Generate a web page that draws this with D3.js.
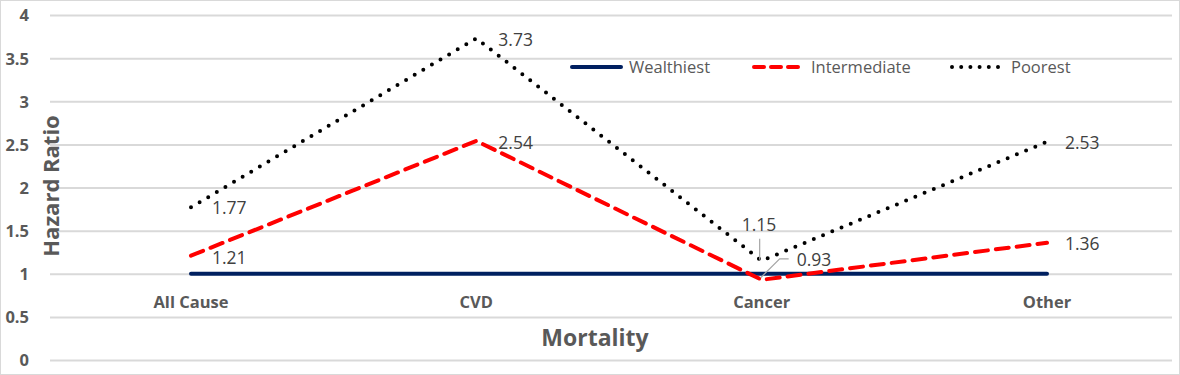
<!DOCTYPE html>
<html><head><meta charset="utf-8">
<script src="https://cdn.jsdelivr.net/npm/d3@7"></script>
<style>body{margin:0;background:#fff}text{font-family:"Open Sans","Noto Sans",sans-serif}</style>
</head><body>
<svg id="c" width="1180" height="375"></svg>
<script>
const categories = ["All Cause","CVD","Cancer","Other"];
const wealthiest = [1,1,1,1];
const intermediate = [1.21,2.54,0.93,1.36];
const poorest = [1.77,3.73,1.15,2.53];
const yTicks = [0,0.5,1,1.5,2,2.5,3,3.5,4];
const seriesNames = ["Wealthiest","Intermediate","Poorest"];

const svg = d3.select("#c");
svg.append("rect").attr("x",0.5).attr("y",0.5).attr("width",1179).attr("height",374).attr("fill","#fff").attr("stroke","#d9d9d9");

const x = d3.scalePoint().domain(categories).range([191,1047]);
const y = d3.scaleLinear().domain([0,4]).range([360,15]);

// gridlines + tick labels
const gAxis = svg.append("g").attr("transform","translate(50,0)")
  .call(d3.axisLeft(y).tickValues(yTicks).tickSize(-1122).tickFormat(d=>d));
gAxis.select(".domain").remove();
gAxis.selectAll(".tick line").attr("stroke","#d9d9d9").attr("stroke-width",2);
gAxis.selectAll(".tick text").attr("x",-21).attr("dy","0.36em").attr("fill","#595959")
  .attr("font-size","16.5px").attr("font-weight","bold").attr("text-anchor","end");

// category labels
svg.selectAll(".cat").data(categories).enter().append("text")
  .attr("x",d=>x(d)).attr("y",308).attr("text-anchor","middle")
  .attr("fill","#595959").attr("font-size","16.5px").attr("font-weight","bold").text(d=>d);

svg.append("text").attr("x",595).attr("y",346).attr("text-anchor","middle")
  .attr("fill","#595959").attr("font-size","23px").attr("font-weight","bold").text("Mortality");
svg.append("text").attr("transform","translate(59,186) rotate(-90)").attr("text-anchor","middle")
  .attr("fill","#595959").attr("font-size","22px").attr("font-weight","bold").text("Hazard Ratio");

const line = d3.line().x((d,i)=>x(categories[i])).y(d=>y(d));
const styles = [
  {data:wealthiest,color:"#002060",dash:null,leg:null},
  {data:intermediate,color:"#ff0000",dash:"13,8",leg:"10,7"},
  {data:poorest,color:"#000000",dash:"0,10",leg:"0,9.2"}
];
styles.forEach(s=>{
  svg.append("path").datum(s.data).attr("d",line).attr("fill","none")
    .attr("stroke",s.color).attr("stroke-width",4).attr("stroke-linecap","round")
    .attr("stroke-dasharray",s.dash);
});

// legend
const legX1 = [572,754,952];
const legX2 = [621,798,998];
const legT = [629,811,1011];
styles.forEach((s,i)=>{
  svg.append("line").attr("x1",legX1[i]).attr("x2",legX2[i]).attr("y1",67).attr("y2",67)
    .attr("stroke",s.color).attr("stroke-width",4).attr("stroke-linecap","round").attr("stroke-dasharray",s.leg);
  svg.append("text").attr("x",legT[i]).attr("y",73).attr("fill","#595959").attr("font-size","16.5px").text(seriesNames[i]);
});

// data labels
const lbl = (lx,ly,v)=>svg.append("text").attr("x",lx).attr("y",ly).attr("fill","#404040").attr("font-size","17.5px").text(v.toFixed(2));
lbl(x(categories[0])+21, y(poorest[0])+7, poorest[0]);
lbl(x(categories[0])+21, y(intermediate[0])+8, intermediate[0]);
lbl(x(categories[1])+22, y(poorest[1])+8, poorest[1]);
lbl(x(categories[1])+22, y(intermediate[1])+8, intermediate[1]);
lbl(x(categories[3])+18, y(poorest[3])+7, poorest[3]);
lbl(x(categories[3])+18, y(intermediate[3])+7, intermediate[3]);
// cancer labels with leader lines
const cx = x(categories[2]);
lbl(cx-20, y(poorest[2])-30, poorest[2]);
svg.append("line").attr("x1",cx-2).attr("x2",cx-2).attr("y1",y(poorest[2])-22).attr("y2",y(poorest[2])-1).attr("stroke","#a6a6a6").attr("stroke-width",1.2);
lbl(cx+35, y(intermediate[2])-14, intermediate[2]);
svg.append("polyline").attr("points",`${cx-1},${y(intermediate[2])-2} ${cx+18},${y(intermediate[2])-21} ${cx+27},${y(intermediate[2])-21}`)
  .attr("fill","none").attr("stroke","#a6a6a6").attr("stroke-width",1.2);
</script>
</body></html>
